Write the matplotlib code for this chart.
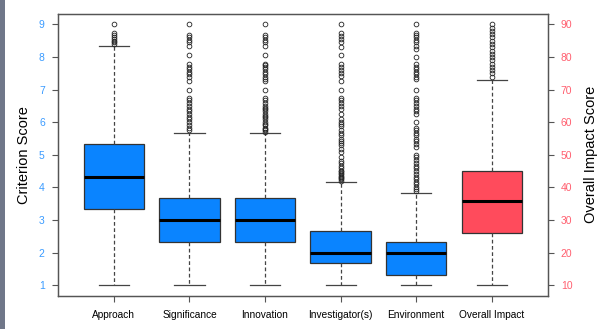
import matplotlib
matplotlib.use("Agg")
import matplotlib.pyplot as plt
from matplotlib.patches import Rectangle

plt.rcParams["font.family"] = ["Liberation Sans", "DejaVu Sans"]

# criteria on the left axis (1-9 scale)
criteria = ["Approach", "Significance", "Innovation", "Investigator(s)", "Environment"]
q1 = [3.33, 2.33, 2.33, 1.67, 1.33]
medians = [4.33, 3.0, 3.0, 2.0, 2.0]
q3 = [5.33, 3.67, 3.67, 2.67, 2.33]
whis_lo = [1, 1, 1, 1, 1]
whis_hi = [8.33, 5.67, 5.67, 4.17, 3.83]

out_approach = [9.0, 8.75, 8.67, 8.6, 8.55, 8.5, 8.45, 8.4]
out_significance = [9.0, 8.69, 8.61, 8.53, 8.45, 8.33, 8.07, 7.8, 7.71, 7.63, 7.54, 7.47,
                    7.39, 7.26, 7.0, 6.75, 6.67, 6.59, 6.51, 6.42, 6.33, 6.25, 6.17,
                    6.1, 6.0, 5.92, 5.83, 5.75]
out_innovation = [9.0, 8.69, 8.61, 8.53, 8.45, 8.33, 8.07, 7.8, 7.75, 7.71, 7.63, 7.54,
                  7.47, 7.39, 7.33, 7.26, 7.0, 6.75, 6.67, 6.59, 6.51, 6.45, 6.42, 6.33,
                  6.25, 6.2, 6.17, 6.1, 6.0, 5.95, 5.92, 5.83, 5.8, 5.75, 5.7]
out_investigator = [9.0, 8.73, 8.66, 8.56, 8.46, 8.3, 8.05, 7.79, 7.71, 7.61, 7.51, 7.41,
                    7.28, 6.98, 6.75, 6.67, 6.59, 6.51, 6.42, 6.26, 6.1, 6.02, 5.95,
                    5.87, 5.75, 5.67, 5.6, 5.5, 5.44, 5.36, 5.29, 5.18, 5.08, 4.93, 4.82,
                    4.74, 4.67, 4.6, 4.52, 4.5, 4.44, 4.4, 4.36, 4.33, 4.29, 4.25, 4.21]
out_environment = [9.0, 8.75, 8.67, 8.6, 8.53, 8.45, 8.33, 8.25, 8.0, 7.8, 7.71, 7.63,
                   7.54, 7.47, 7.39, 7.33, 7.0, 6.75, 6.67, 6.6, 6.5, 6.42, 6.33, 6.25,
                   6.0, 5.83, 5.75, 5.67, 5.6, 5.5, 5.42, 5.33, 5.25, 5.0, 4.92, 4.83,
                   4.75, 4.67, 4.6, 4.5, 4.42, 4.33, 4.25, 4.17, 4.1, 4.0, 3.95, 3.9]
outliers = [out_approach, out_significance, out_innovation, out_investigator, out_environment]

# overall impact on the right axis (10-90 scale)
impact_label = "Overall Impact"
impact_stats = dict(q1=26, med=36, q3=45, whislo=10, whishi=73)
out_impact = [74, 75, 76, 77, 78, 79, 80, 81, 82, 83, 84, 85, 86, 87, 88, 89, 90]

left_ticks = [1, 2, 3, 4, 5, 6, 7, 8, 9]
right_ticks = [10, 20, 30, 40, 50, 60, 70, 80, 90]

blue = "#0A84FF"
red = "#FF4B5C"
blue_txt = "#3A9BFF"
red_txt = "#FF5F6F"
frame = "#555555"

fig = plt.figure(figsize=(6.11, 3.29), dpi=100)
ax = fig.add_axes([0.0949, 0.1012, 0.8015, 0.8562])

box_kw = dict(widths=0.8, capwidths=0.4, patch_artist=True, showfliers=True,
              boxprops=dict(edgecolor="#333333", linewidth=0.9),
              medianprops=dict(color="black", linewidth=2.2),
              whiskerprops=dict(color="#444444", linewidth=0.9, linestyle=(0, (3, 2))),
              capprops=dict(color="#444444", linewidth=0.9),
              flierprops=dict(marker="o", markersize=3.4, markerfacecolor="none",
                              markeredgecolor="#222222", markeredgewidth=0.6))

stats = []
for i in range(len(criteria)):
    stats.append(dict(label=criteria[i], q1=q1[i], med=medians[i], q3=q3[i],
                      whislo=whis_lo[i], whishi=whis_hi[i], fliers=outliers[i]))
bp = ax.bxp(stats, positions=range(1, len(criteria) + 1), **box_kw)
for b in bp["boxes"]:
    b.set_facecolor(blue)

ax2 = ax.twinx()
st = dict(impact_stats, label=impact_label, fliers=out_impact)
bp2 = ax2.bxp([st], positions=[6], **box_kw)
for b in bp2["boxes"]:
    b.set_facecolor(red)

ax.set_xlim(0.26, 6.74)
ax.set_ylim(0.68, 9.32)
ax2.set_ylim(6.8, 93.2)

ax.set_xticks(range(1, 7))
ax.set_xticklabels(criteria + [impact_label], fontsize=7.3)
ax2.set_xticks(range(1, 7))

ax.set_yticks(left_ticks)
ax.set_yticklabels([str(t) for t in left_ticks], color=blue_txt, fontsize=7.5)
ax2.set_yticks(right_ticks)
ax2.set_yticklabels([str(t) for t in right_ticks], color=red_txt, fontsize=7.5)

for a in (ax, ax2):
    for s in a.spines.values():
        s.set_color(frame)
        s.set_linewidth(0.9)
    a.tick_params(axis="both", length=4.5, width=0.8, color=frame, pad=5)
ax.tick_params(axis="x", pad=6)

ax.set_ylabel("Criterion Score", fontsize=10.5, labelpad=6)
ax2.set_ylabel("Overall Impact Score", fontsize=10.5, labelpad=8)

# gray strip on the left edge of the picture
fig.patches.append(Rectangle((0, 0), 5 / 611, 1, transform=fig.transFigure,
                             facecolor="#707789", edgecolor="none"))

fig.savefig("out.png", dpi=100)
